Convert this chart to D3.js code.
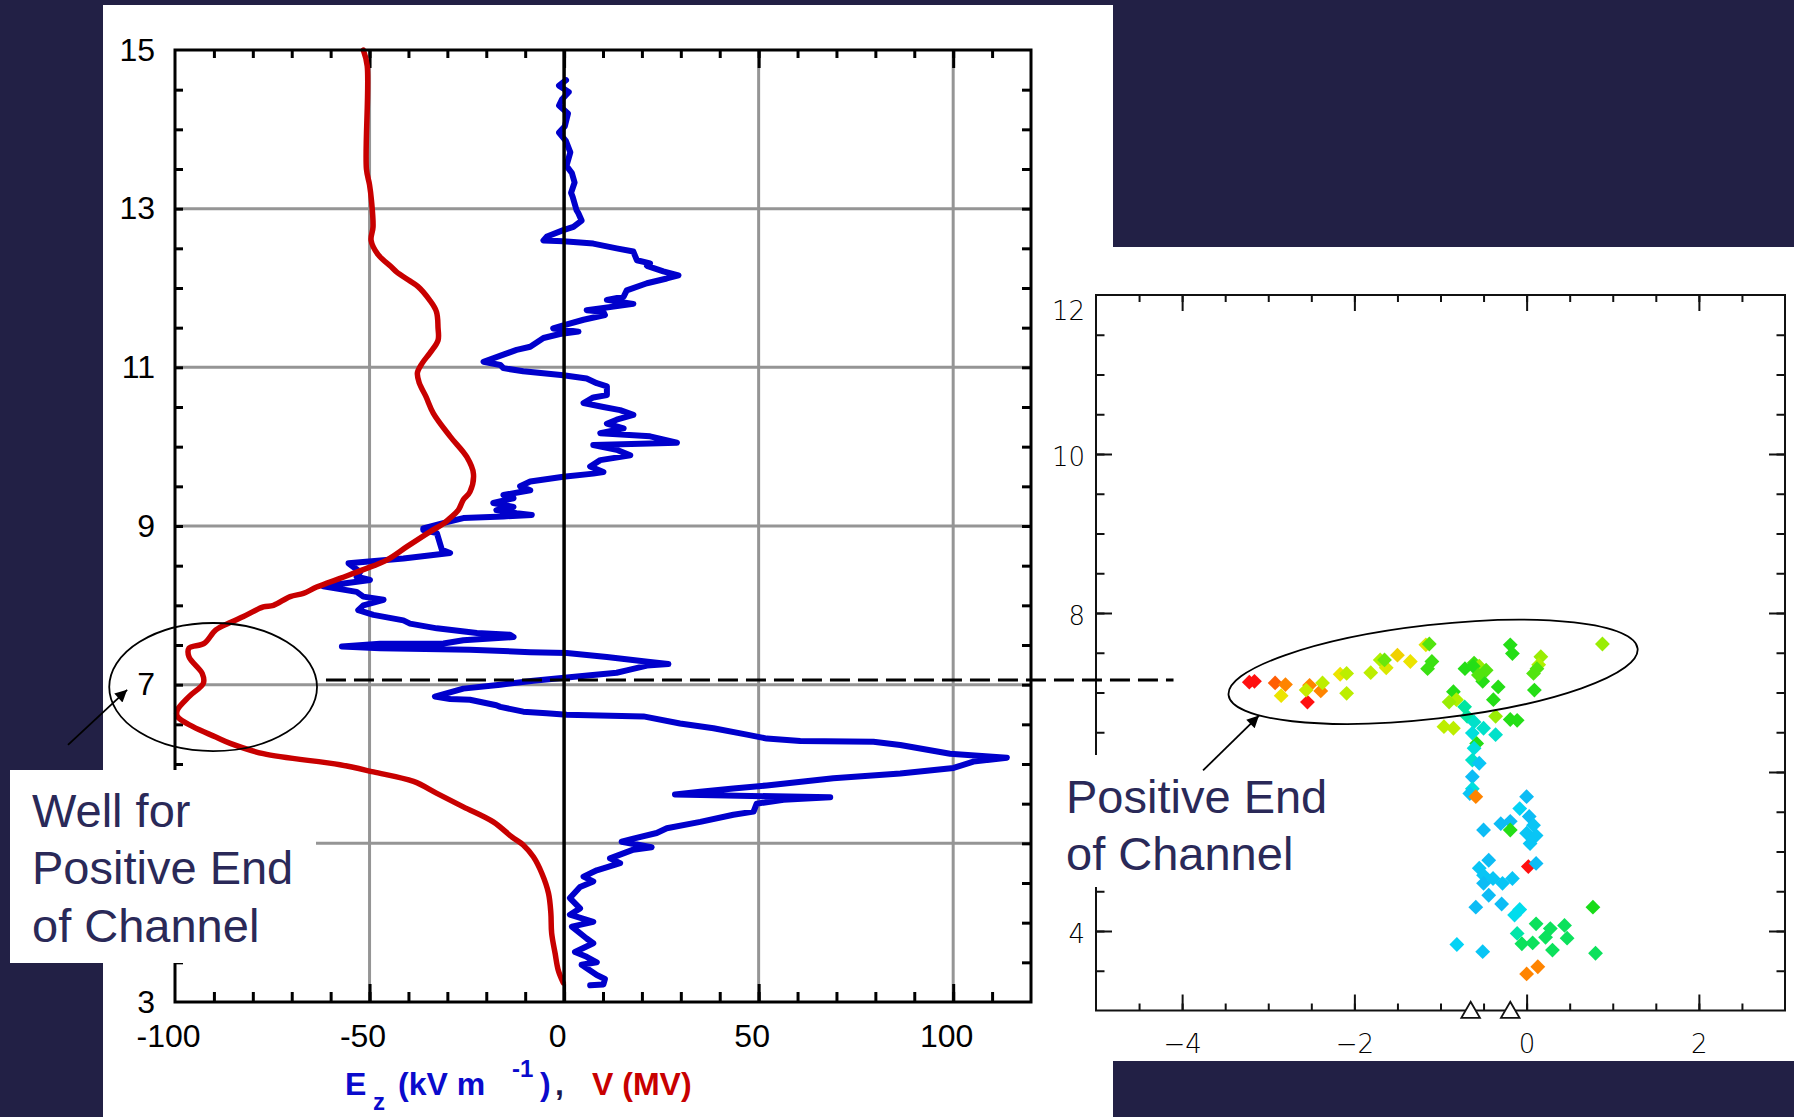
<!DOCTYPE html>
<html><head><meta charset="utf-8">
<script src="https://cdn.jsdelivr.net/npm/d3@7"></script>
<style>
html,body{margin:0;padding:0;background:#222045;}
svg{display:block;}
</style></head>
<body>
<svg id="chart" width="1794" height="1117"></svg>
<script>
// ---------------- DATA ----------------
// Left panel: balloon sounding, altitude (km) vs value
const leftXTicks = [-100, -50, 0, 50, 100];
const leftYTicks = [3, 7, 9, 11, 13, 15];      // "5" is hidden behind the annotation box
const leftGridX = [-50, 50, 100];
const leftGridY = [5, 7, 9, 11, 13];

// Ez (kV/m) profile: [altitude, Ez]
const fieldProfile = [
[14.62,0.5],[14.55,-1.3],[14.47,1.2],[14.38,-0.5],[14.3,-1.3],[14.2,1.0],[14.04,0.2],[13.96,-1.3],[13.85,0.5],[13.71,1.6],
[13.54,0.6],[13.45,2.0],[13.33,2.7],[13.2,1.8],[13.15,2.2],[12.98,3.2],[12.94,3.7],[12.85,4.5],[12.77,2.4],[12.73,-0.2],
[12.65,-4.4],[12.6,-5.3],[12.59,-0.2],[12.58,2.4],[12.56,7.5],[12.5,13.5],[12.46,17.8],[12.35,18.7],[12.31,22.1],[12.28,21.3],
[12.21,25.5],[12.16,29.4],[12.12,26.4],[12.06,21.3],[11.97,16.1],[11.89,15.3],[11.85,11.0],[11.8,17.8],[11.72,5.8],[11.7,10.1],
[11.66,10.5],[11.6,5.0],[11.53,-0.2],[11.49,-2.8],[11.45,3.7],[11.42,-1.1],[11.37,-5.3],[11.26,-8.7],[11.22,-12.2],[11.16,-15.6],
[11.07,-20.7],[11.03,-16.4],[10.99,-15.6],[10.95,-10.5],[10.9,-0.2],[10.86,5.8],[10.8,8.4],[10.76,11.0],[10.65,11.0],[10.62,7.5],
[10.55,5.0],[10.5,10.1],[10.46,14.4],[10.4,17.8],[10.34,13.5],[10.29,11.0],[10.23,15.3],[10.17,9.3],[10.13,22.1],[10.05,29.0],
[10.04,22.1],[10.02,7.5],[9.96,13.5],[9.89,17.0],[9.83,9.3],[9.75,6.7],[9.68,10.1],[9.66,7.5],[9.62,-0.2],[9.56,-8.7],
[9.5,-11.3],[9.45,-8.7],[9.39,-15.6],[9.35,-13.0],[9.29,-18.2],[9.24,-13.0],[9.2,-17.4],[9.16,-12.2],[9.14,-8.3],[9.12,-15.6],
[9.1,-25.9],[9.05,-30.1],[8.97,-36.2],[8.95,-36.2],[8.91,-32.7],[8.7,-31.4],[8.66,-29.3],[8.59,-41.3],[8.53,-55.4],[8.42,-52.4],
[8.36,-53.3],[8.32,-49.9],[8.24,-61.9],[8.17,-53.3],[8.11,-51.6],[8.07,-46.4],[8.0,-51.6],[7.94,-52.9],[7.88,-49.0],[7.81,-41.3],
[7.77,-39.6],[7.71,-32.7],[7.65,-22.4],[7.63,-13.9],[7.6,-13.0],[7.56,-25.9],[7.52,-31.0],[7.515,-47.3],[7.48,-57.1],[7.46,-47.3],
[7.44,-24.2],[7.41,-8.7],[7.4,0.7],[7.35,11.0],[7.29,21.5],[7.26,26.8],[7.24,21.3],[7.18,16.1],[7.15,13.5],[7.12,6.7],
[7.09,0.7],[7.05,-7.9],[7.0,-16.4],[6.95,-25.9],[6.85,-33.2],[6.82,-29.3],[6.81,-24.2],[6.74,-17.4],[6.72,-16.4],[6.66,-10.5],
[6.64,-4.5],[6.62,0.7],[6.6,20.4],[6.51,29.8],[6.45,38.4],[6.37,47.0],[6.32,52.1],[6.29,60.7],[6.28,79.5],[6.24,86.4],
[6.13,99.2],[6.08,113.8],[6.03,105.2],[5.95,100.1],[5.88,86.4],[5.82,69.2],[5.73,52.1],[5.69,43.5],[5.65,35.0],[5.615,28.5],
[5.58,68.4],[5.55,56.4],[5.5,49.5],[5.4,48.7],[5.36,43.5],[5.27,35.0],[5.19,26.4],[5.13,23.8],[5.06,17.8],[5.02,14.8],
[4.95,22.5],[4.92,17.8],[4.81,11.8],[4.75,14.4],[4.66,8.4],[4.58,5.0],[4.52,7.5],[4.45,4.1],[4.31,1.5],[4.18,4.1],
[4.1,1.5],[4.01,7.5],[3.95,2.0],[3.8,5.8],[3.74,7.5],[3.63,2.8],[3.57,5.8],[3.5,8.4],[3.47,4.5],[3.34,8.4],
[3.29,10.5],[3.22,10.1],[3.21,6.7]
];

// V (MV) profile: [altitude, V]
const potentialProfile = [
[15.0,-51.6],[14.8,-50.6],[13.5,-50.8],[13.3,-50.0],[13.1,-49.5],[12.77,-49.1],[12.6,-49.6],[12.42,-47.8],[12.27,-44.5],[12.2,-43.0],
[12.1,-40.0],[12.02,-37.6],[11.85,-34.6],[11.7,-32.8],[11.5,-32.4],[11.34,-32.4],[11.18,-34.5],[11.05,-36.5],[10.93,-37.7],[10.8,-37.2],
[10.63,-35.5],[10.42,-33.6],[10.13,-29.3],[9.87,-25.0],[9.66,-23.3],[9.43,-24.2],[9.33,-25.9],[9.2,-27.2],[9.1,-29.3],[9.03,-31.0],
[8.93,-34.4],[8.74,-40.4],[8.57,-45.6],[8.45,-51.6],[8.34,-57.6],[8.23,-63.6],[8.15,-67.0],[8.11,-70.4],[8.0,-74.7],[7.98,-77.3],
[7.86,-82.4],[7.79,-85.5],[7.69,-89.5],[7.52,-92.5],[7.46,-96.4],[7.35,-96.4],[7.14,-93.0],[7.02,-92.7],[6.85,-96.4],[6.68,-99.4],
[6.6,-99.4],[6.47,-95.4],[6.34,-89.5],[6.26,-85.8],[6.13,-77.3],[5.99,-57.6],[5.9,-49.0],[5.78,-38.7],[5.63,-32.7],[5.46,-25.9],
[5.27,-18.2],[5.08,-13.4],[4.98,-10.5],[4.83,-7.9],[4.62,-5.7],[4.37,-4.0],[4.12,-3.4],[3.87,-3.2],[3.61,-2.3],[3.40,-1.5],[3.24,-0.2]
];

// Right panel: lightning sources (km), colour level (0 = early/blue .. 1 = late/red)
const rightXTicks = [-4, -2, 0, 2];
const rightYTicks = [4, 8, 10, 12];            // "6" is hidden behind the annotation box
const sourceX = [-3.16,-3.22,-2.92,-2.80,-2.85,-2.545,-2.52,-2.56,-2.39,-2.37,-2.165,-2.09,-2.09,-1.81,-1.70,-1.63,-1.50,-1.65,-1.35,-1.17,
 -1.13,-1.10,-1.15,-0.716,-0.61,-0.55,-0.47,-0.51,-0.33,-0.85,-0.815,-0.72,-0.386,-0.19,-0.165,0.165,0.14,0.08,0.09,0.88,
 -0.36,-0.19,-0.11,-0.96,-0.85,-0.69,-0.61,-0.50,-0.63,-0.36,-0.58,-0.61,-0.63,-0.55,-0.63,-0.63,-0.66,-0.59,0.0,-0.08,
 0.03,0.08,-0.30,-0.19,-0.50,-0.19,0.0,0.11,0.04,-0.44,0.02,0.11,-0.55,-0.50,-0.39,-0.28,-0.165,-0.50,-0.44,-0.59,
 -0.29,-0.08,-0.14,0.77,0.11,0.44,0.275,-0.11,0.22,0.47,-0.055,0.07,0.30,0.80,-0.81,-0.51,0.13,0.0,-0.62,-0.56,0.12,-0.90];
const sourceZ = [7.14,7.13,7.12,7.10,6.96,6.88,7.09,7.03,7.02,7.12,7.23,7.24,6.99,7.25,7.41,7.31,7.47,7.41,7.39,7.60,
 7.61,7.39,7.30,7.30,7.37,7.33,7.28,7.14,7.07,7.01,6.91,6.82,6.91,7.60,7.49,7.45,7.35,7.24,7.03,7.61,
 6.70,6.66,6.65,6.57,6.55,6.70,6.63,6.55,6.49,6.47,6.36,6.30,6.15,6.11,5.94,5.79,5.73,5.69,5.69,5.54,
 5.44,5.33,5.35,5.38,5.27,5.27,5.23,5.20,5.10,4.89,4.81,4.85,4.79,4.70,4.66,4.60,4.66,4.60,4.45,4.30,
 4.34,4.27,4.20,4.30,4.09,4.07,4.03,3.97,3.92,3.91,3.84,3.85,3.76,3.72,3.83,3.74,3.55,3.46,7.33,7.22,7.30,6.88];
const sourceLevel = [1.0,1.0,0.92,0.88,0.78,1.0,0.88,0.72,0.88,0.7,0.78,0.7,0.7,0.7,0.68,0.75,0.8,0.62,0.78,0.76,
 0.6,0.58,0.58,0.56,0.58,0.66,0.6,0.56,0.56,0.56,0.68,0.45,0.56,0.56,0.56,0.66,0.68,0.6,0.56,0.66,
 0.66,0.56,0.56,0.7,0.7,0.45,0.4,0.4,0.38,0.4,0.56,0.38,0.4,0.3,0.28,0.38,0.3,0.88,0.28,0.33,
 0.28,0.3,0.28,0.28,0.28,0.56,0.3,0.3,0.3,0.28,1.0,0.28,0.3,0.3,0.3,0.3,0.3,0.28,0.28,0.28,
 0.28,0.36,0.36,0.55,0.5,0.5,0.5,0.44,0.5,0.5,0.5,0.5,0.5,0.5,0.33,0.3,0.88,0.88,0.56,0.6,0.6,0.66];
const stationX = [-0.65, -0.19];

// Annotations (in data units)
const wellEllipse = {cx: -90.2, cy: 6.97, rx: 26.7, ry: 0.807};
const channelEllipse = {cx: -1.086, cy: 7.26, rx: 2.39, ry: 0.59, angle: -6.5};
const markerAltitude = 7.06;

// ---------------- DRAWING ----------------
const svg = d3.select("#chart");
const NAVY = "#222045", TEXTNAVY = "#2a2958";
svg.append("rect").attr("width",1794).attr("height",1117).attr("fill",NAVY);
svg.append("rect").attr("x",103).attr("y",5).attr("width",1010).attr("height",1112).attr("fill","#fff");
svg.append("rect").attr("x",1113).attr("y",247).attr("width",681).attr("height",814).attr("fill","#fff");

const defs = svg.append("defs");
defs.append("marker").attr("id","arr").attr("viewBox","0 0 10 10").attr("refX",10).attr("refY",5)
  .attr("markerWidth",17).attr("markerHeight",12).attr("markerUnits","userSpaceOnUse").attr("orient","auto")
  .append("path").attr("d","M0,0 L10,5 L0,10 z").attr("fill","#000");

// ----- left chart -----
const xL = d3.scaleLinear().domain([-100,120]).range([175,1031]);
const yL = d3.scaleLinear().domain([3,15]).range([1002,50]);
const L = svg.append("g");

// grid
L.selectAll(".gx").data(leftGridX).join("line")
  .attr("x1",d=>xL(d)).attr("x2",d=>xL(d)).attr("y1",yL(15)).attr("y2",yL(3))
  .attr("stroke","#959595").attr("stroke-width",3);
L.selectAll(".gy").data(leftGridY).join("line")
  .attr("x1",xL(-100)).attr("x2",xL(120)).attr("y1",d=>yL(d)).attr("y2",d=>yL(d))
  .attr("stroke","#959595").attr("stroke-width",3);

const noDomain = g => g.select(".domain").remove();
const minorX = d3.range(-90,120,10), majorX = [-50,0,50,100];
const minorY = d3.range(3.5,15,0.5);
function styleTicks(g){ g.selectAll("line").attr("stroke","#000").attr("stroke-width",3); }
L.append("g").attr("transform",`translate(0,${yL(15)})`).call(d3.axisTop(xL).tickValues(minorX).tickSize(-8).tickFormat("")).call(noDomain).call(styleTicks);
L.append("g").attr("transform",`translate(0,${yL(15)})`).call(d3.axisTop(xL).tickValues(majorX).tickSize(-18).tickFormat("")).call(noDomain).call(styleTicks);
L.append("g").attr("transform",`translate(0,${yL(3)})`).call(d3.axisBottom(xL).tickValues(minorX).tickSize(-10).tickFormat("")).call(noDomain).call(styleTicks);
L.append("g").attr("transform",`translate(0,${yL(3)})`).call(d3.axisBottom(xL).tickValues(majorX).tickSize(-18).tickFormat("")).call(noDomain).call(styleTicks);
L.append("g").attr("transform",`translate(${xL(-100)},0)`).call(d3.axisLeft(yL).tickValues(minorY).tickSize(-8).tickFormat("")).call(noDomain).call(styleTicks);
L.append("g").attr("transform",`translate(${xL(120)},0)`).call(d3.axisRight(yL).tickValues(minorY).tickSize(-9).tickFormat("")).call(noDomain).call(styleTicks);

// labels
const xlab = L.append("g").attr("transform",`translate(0,${yL(3)})`)
  .call(d3.axisBottom(xL).tickValues(leftXTicks).tickSize(0).tickPadding(22).tickFormat(d=>String(d))).call(noDomain);
xlab.selectAll("text").attr("font-family","'Liberation Sans',Arial,sans-serif").attr("font-size",32).attr("fill","#000").attr("dx",-7);
const ylab = L.append("g").attr("transform",`translate(${xL(-100)},0)`)
  .call(d3.axisLeft(yL).tickValues(leftYTicks).tickSize(0).tickPadding(20).tickFormat(d=>String(d))).call(noDomain);
ylab.selectAll("text").attr("font-family","'Liberation Sans',Arial,sans-serif").attr("font-size",32).attr("fill","#000");

// curves
const line = d3.line().x(d=>xL(d[1])).y(d=>yL(d[0]));
L.append("path").datum(fieldProfile).attr("d",line).attr("fill","none")
  .attr("stroke","#0000cc").attr("stroke-width",6).attr("stroke-linejoin","round").attr("stroke-linecap","round");
L.append("path").datum(potentialProfile).attr("d",d3.line().curve(d3.curveCatmullRom.alpha(0.5)).x(d=>xL(d[1])).y(d=>yL(d[0])))
  .attr("fill","none")
  .attr("stroke","#c80000").attr("stroke-width",5.5).attr("stroke-linejoin","round").attr("stroke-linecap","round");

// zero line & frame
L.append("line").attr("x1",xL(0)).attr("x2",xL(0)).attr("y1",yL(15)).attr("y2",yL(3)).attr("stroke","#000").attr("stroke-width",3.5);
L.append("rect").attr("x",xL(-100)).attr("y",yL(15)).attr("width",xL(120)-xL(-100)).attr("height",yL(3)-yL(15))
  .attr("fill","none").attr("stroke","#000").attr("stroke-width",3);

// well ellipse
L.append("ellipse").attr("cx",xL(wellEllipse.cx)).attr("cy",yL(wellEllipse.cy))
  .attr("rx",xL(wellEllipse.cx+wellEllipse.rx)-xL(wellEllipse.cx)).attr("ry",yL(wellEllipse.cy-wellEllipse.ry)-yL(wellEllipse.cy))
  .attr("fill","none").attr("stroke","#000").attr("stroke-width",1.8);

// x-axis title
const ttl = L.append("text").attr("font-family","'Liberation Sans',Arial,sans-serif").attr("font-weight","bold").attr("font-size",32);
ttl.append("tspan").attr("x",345).attr("y",1095).attr("fill","#0a0acc").text("E");
ttl.append("tspan").attr("x",373).attr("y",1110).attr("font-size",24).attr("fill","#0a0acc").text("z");
ttl.append("tspan").attr("x",398).attr("y",1095).attr("fill","#0a0acc").text("(kV m");
ttl.append("tspan").attr("x",512).attr("y",1077).attr("font-size",24).attr("fill","#0a0acc").text("-1");
ttl.append("tspan").attr("x",540).attr("y",1095).attr("fill","#0a0acc").text(")");
ttl.append("tspan").attr("x",555).attr("y",1095).attr("fill","#1a1a50").text(",");
ttl.append("tspan").attr("x",592).attr("y",1095).attr("fill","#c80000").text("V (MV)");

// ----- right chart -----
const xR = d3.scaleLinear().domain([-5,3]).range([1096,1785]);
const yR = d3.scaleLinear().domain([3,12]).range([1010.5,295]);
const R = svg.append("g");
function styleR(g){ g.selectAll("line").attr("stroke","#111").attr("stroke-width",2); }
const rMinorX = d3.range(-4.5,3,0.5), rMajorX = [-4,-2,0,2];
const rMinorY = d3.range(3.5,12,0.5), rMajorY = [4,6,8,10];
R.append("g").attr("transform",`translate(0,${yR(12)})`).call(d3.axisTop(xR).tickValues(rMinorX).tickSize(-7).tickFormat("")).call(noDomain).call(styleR);
R.append("g").attr("transform",`translate(0,${yR(12)})`).call(d3.axisTop(xR).tickValues(rMajorX).tickSize(-16).tickFormat("")).call(noDomain).call(styleR);
R.append("g").attr("transform",`translate(0,${yR(3)})`).call(d3.axisBottom(xR).tickValues(rMinorX).tickSize(-7).tickFormat("")).call(noDomain).call(styleR);
R.append("g").attr("transform",`translate(0,${yR(3)})`).call(d3.axisBottom(xR).tickValues(rMajorX).tickSize(-16).tickFormat("")).call(noDomain).call(styleR);
R.append("g").attr("transform",`translate(${xR(-5)},0)`).call(d3.axisLeft(yR).tickValues(rMinorY).tickSize(-8.5).tickFormat("")).call(noDomain).call(styleR);
R.append("g").attr("transform",`translate(${xR(-5)},0)`).call(d3.axisLeft(yR).tickValues(rMajorY).tickSize(-16).tickFormat("")).call(noDomain).call(styleR);
R.append("g").attr("transform",`translate(${xR(3)},0)`).call(d3.axisRight(yR).tickValues(rMinorY).tickSize(-8.5).tickFormat("")).call(noDomain).call(styleR);
R.append("g").attr("transform",`translate(${xR(3)},0)`).call(d3.axisRight(yR).tickValues(rMajorY).tickSize(-16).tickFormat("")).call(noDomain).call(styleR);
R.append("rect").attr("x",xR(-5)).attr("y",yR(12)).attr("width",xR(3)-xR(-5)).attr("height",yR(3)-yR(12))
  .attr("fill","none").attr("stroke","#111").attr("stroke-width",2);

const rFont = "'DejaVu Sans',sans-serif";
const rxl = R.append("g").attr("transform",`translate(0,${yR(3)})`)
  .call(d3.axisBottom(xR).tickValues(rightXTicks).tickSize(0).tickPadding(24).tickFormat(d=>d<0?"\u2212"+Math.abs(d):String(d))).call(noDomain);
rxl.selectAll("text").attr("font-family",rFont).attr("font-weight",200).attr("font-size",26).attr("fill","#000");
const ryl = R.append("g").attr("transform",`translate(${xR(-5)},0)`)
  .call(d3.axisLeft(yR).tickValues(rightYTicks).tickSize(0).tickPadding(11).tickFormat(d=>String(d))).call(noDomain);
ryl.selectAll("text").attr("font-family",rFont).attr("font-weight",200).attr("font-size",26).attr("fill","#000")
  .attr("dy",d=>d===12?"0.95em":"0.45em");

// sources
const colorScale = d3.scaleLinear()
  .domain([0.25,0.35,0.45,0.55,0.68,0.78,0.88,1.0])
  .range(["#12aef5","#00dcf5","#00e6a0","#18dc18","#b0f000","#ece400","#ff8400","#ff1010"]);
const diamond = d3.symbol().type(d3.symbolDiamond2 || d3.symbolDiamond).size(140);
R.selectAll(".src").data(d3.range(sourceX.length)).join("path")
  .attr("d",diamond)
  .attr("transform",i=>`translate(${xR(sourceX[i])},${yR(sourceZ[i])})`)
  .attr("fill",i=>colorScale(sourceLevel[i]));

// stations
R.selectAll(".sta").data(stationX).join("path")
  .attr("d",d3.symbol().type(d3.symbolTriangle).size(150))
  .attr("transform",d=>`translate(${xR(d)},${yR(3)+2})`)
  .attr("fill","#fff").attr("stroke","#111").attr("stroke-width",1.8);

// channel ellipse
{
  const cx = xR(channelEllipse.cx), cy = yR(channelEllipse.cy);
  R.append("ellipse").attr("cx",cx).attr("cy",cy)
    .attr("rx",xR(channelEllipse.cx+channelEllipse.rx)-cx).attr("ry",yR(channelEllipse.cy-channelEllipse.ry)-cy)
    .attr("transform",`rotate(${channelEllipse.angle} ${cx} ${cy})`)
    .attr("fill","none").attr("stroke","#000").attr("stroke-width",1.8);
}

// dashed marker line across panels
svg.append("line").attr("x1",xL(-61.2)).attr("x2",xR(-4.1)).attr("y1",yL(markerAltitude)).attr("y2",yL(markerAltitude))
  .attr("stroke","#000").attr("stroke-width",3).attr("stroke-dasharray","20,8");

// text boxes
const tFont = "'Liberation Sans',Arial,sans-serif";
svg.append("rect").attr("x",10).attr("y",770).attr("width",306).attr("height",193).attr("fill","#fff");
const t1 = svg.append("text").attr("font-family",tFont).attr("font-size",47).attr("fill",TEXTNAVY);
[["Well for",827],["Positive End",884],["of Channel",942]].forEach(([s,y])=>t1.append("tspan").attr("x",32).attr("y",y).text(s));
svg.append("rect").attr("x",1045).attr("y",755).attr("width",220).attr("height",132).attr("fill","#fff");
const t2 = svg.append("text").attr("font-family",tFont).attr("font-size",47).attr("fill",TEXTNAVY);
[["Positive End",813],["of Channel",870]].forEach(([s,y])=>t2.append("tspan").attr("x",1066).attr("y",y).text(s));

// arrows
svg.append("line").attr("x1",xL(-127.5)).attr("y1",yL(6.24)).attr("x2",xL(-112.3)).attr("y2",yL(6.935))
  .attr("stroke","#000").attr("stroke-width",1.8).attr("marker-end","url(#arr)");
svg.append("line").attr("x1",xR(-3.757)).attr("y1",yR(6.02)).attr("x2",xR(-3.107)).attr("y2",yR(6.71))
  .attr("stroke","#000").attr("stroke-width",1.8).attr("marker-end","url(#arr)");
</script>
</body></html>
